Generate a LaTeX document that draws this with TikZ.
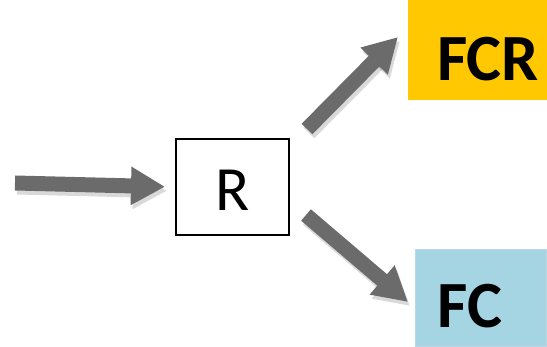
\documentclass[tikz,border=0pt]{standalone}
\usepackage{fontspec}
\setmainfont{Carlito}
\usetikzlibrary{arrows.meta}
\definecolor{arrgray}{HTML}{6B6B6B}
\definecolor{fcrgold}{HTML}{FFC800}
\definecolor{fcblue}{HTML}{A5D5E3}
\definecolor{fcedge}{HTML}{BCD9EA}
\begin{document}
\begin{tikzpicture}[x=1pt,y=-1pt,
  bigarrow/.style={draw=arrgray,line width=15pt,
    -{Triangle[width=36pt,length=34pt]},
    preaction={draw=black,opacity=0.15,line width=15pt,-{Triangle[width=36pt,length=34pt]},transform canvas={shift={(2pt,-4pt)}}}},
  lbl/.style={inner sep=0pt,anchor=base}]
\useasboundingbox (0,0) rectangle (547,347);
\fill[white] (0,0) rectangle (547,347);
\node[draw=black,line width=2pt,minimum width=113pt,minimum height=96pt,inner sep=0pt] (R) at (232.5,187) {};
\node[fill=fcrgold,minimum width=139pt,minimum height=100pt,inner sep=0pt] (FCR) at (477.5,50) {};
\node[fill=fcblue,draw=fcedge,line width=1.5pt,minimum width=131pt,minimum height=97pt,inner sep=0pt] (FC) at (481,298) {};
\node[lbl,font=\fontsize{63}{63}\selectfont] (Rt) at (233,211) {R};
\node[lbl,font=\fontsize{66}{66}\bfseries\selectfont] (FCRt) at (488,81) {FCR};
\node[lbl,font=\fontsize{66}{66}\bfseries\selectfont] (FCt) at (470,328) {FC};
\coordinate (in) at (15,183);
\coordinate (u0) at (307,129);
\coordinate (u1) at (398,37);
\coordinate (d0) at (306,215);
\coordinate (d1) at (408,302);
\draw[bigarrow,shorten >=10pt] (in) -- (R.west);
\draw[bigarrow] (u0) -- (u1);
\draw[bigarrow] (d0) -- (d1);
\end{tikzpicture}
\end{document}
